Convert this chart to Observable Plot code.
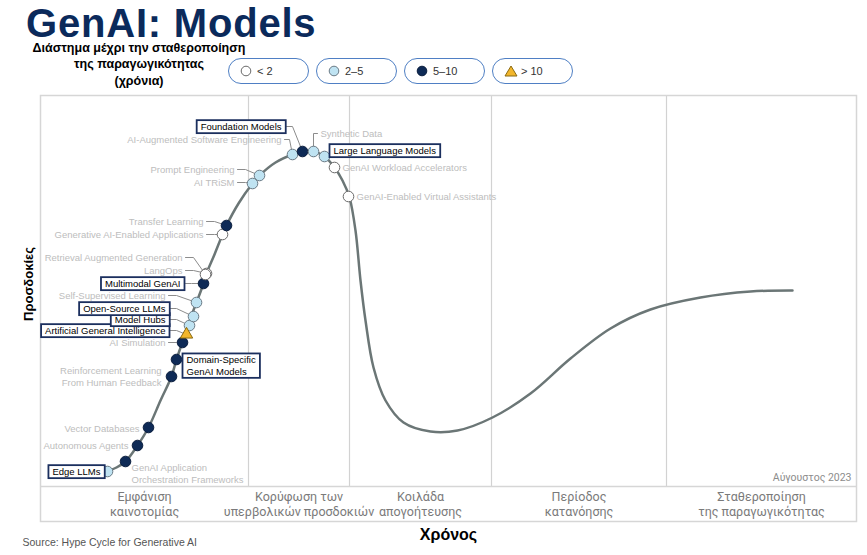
<!DOCTYPE html>
<html><head><meta charset="utf-8">
<script src="https://cdn.jsdelivr.net/npm/d3@7"></script>
<script src="https://cdn.jsdelivr.net/npm/@observablehq/plot@0.6"></script>
<style>
body{margin:0;background:#fff;font-family:"Liberation Sans",Arial,sans-serif;}
#wrap{position:relative;width:867px;height:555px;overflow:hidden}
#head{position:relative;height:88px}
#title{position:absolute;left:26px;top:2.5px;font:bold 40px/40px "Liberation Sans",Arial,sans-serif;letter-spacing:0.8px;color:#0b2a5b;white-space:nowrap}
#ltitle{position:absolute;left:26px;top:39.5px;width:226px;text-align:center;font:bold 12.5px/16.8px "Liberation Sans",Arial,sans-serif;color:#000}
.pill{position:absolute;top:58px;width:79px;height:24px;border:1.5px solid #4f7fc4;border-radius:13px;font:11px/24px "Liberation Sans",Arial,sans-serif;color:#333}
.pill svg{position:absolute;left:11px;top:6px}
.pill span{position:absolute;left:28px;top:0}
</style></head>
<body>
<div id="wrap">
<div id="head">
<div id="title">GenAI: Models</div>
<div id="ltitle">Διάστημα μέχρι την σταθεροποίηση<br>της παραγωγικότητας<br>(χρόνια)</div>
<div id="legend"></div>
</div>
<div id="chart"></div>
</div>
<script>
// ---- data ----
const legendKeys = ["<2", "2-5", "5-10", ">10"];
const legendText = ["< 2", "2–5", "5–10", "> 10"];

const phaseNames = ["Εμφάνιση\nκαινοτομίας", "Κορύφωση των\nυπερβολικών προσδοκιών", "Κοιλάδα\nαπογοήτευσης", "Περίοδος\nκατανόησης", "Σταθεροποίηση\nτης παραγωγικότητας"];
const phaseBounds = [0, 208, 309, 451, 626, 816];

const curveX = [68, 76, 85, 97, 108, 120, 131, 136, 142, 146, 150, 156, 163, 166, 174, 182, 186, 198, 212, 219, 235, 252, 262, 273, 284, 294, 302, 309, 315, 320, 325, 333, 345, 363, 390, 417, 452, 490, 530, 570, 610, 660, 710, 752];
const curveY = [16, 19, 25, 41, 59, 86, 110, 127, 144, 153, 168, 184, 203, 213, 232, 252, 261, 283, 303, 311, 324, 332, 335, 335, 330, 319, 306, 289, 256, 206, 166, 119, 86, 64, 55, 56, 69, 93, 128, 158, 177, 189, 195, 196];

const names = ["Edge LLMs", "GenAI Application\nOrchestration Frameworks", "Autonomous Agents", "Vector Databases", "Reinforcement Learning\nFrom Human Feedback", "Domain-Specific\nGenAI Models", "AI Simulation", "Artificial General Intelligence", "Model Hubs", "Open-Source LLMs", "Self-Supervised Learning", "Multimodal GenAI", "LangOps", "Retrieval Augmented Generation", "Generative AI-Enabled Applications", "Transfer Learning", "AI TRiSM", "Prompt Engineering", "AI-Augmented Software Engineering", "Foundation Models", "Synthetic Data", "Large Language Models", "GenAI Workload Accelerators", "GenAI-Enabled Virtual Assistants"];
const status = ["2-5", "5-10", "5-10", "5-10", "5-10", "5-10", "5-10", ">10", "2-5", "2-5", "2-5", "5-10", "<2", "<2", "<2", "5-10", "2-5", "2-5", "2-5", "5-10", "2-5", "2-5", "<2", "<2"];
const pointX = [67, 85, 97, 108, 131, 136, 142, 146, 149, 153, 156, 163, 166, 165, 182, 186, 212, 219, 252, 262, 273, 284, 294, 308];
const pointY = [15, 25, 41, 59, 110, 127, 144, 152, 161, 170, 184, 203, 213, 212, 252, 261, 303, 311, 332, 335, 335, 330, 319, 290];
const labelX = [60, 91, 88, 99, 121, 146, 125, 125, 125, 125, 125, 140, 142, 142, 163, 163, 194, 194, 241, 241, 280, 293, 302, 316];
const labelY = [15, 13, 41, 58, 110, 121, 144, 156, 167, 178, 191, 203, 216, 229, 252, 265, 304, 317, 347, 360, 353, 336, 319, 290];
const labelSide = ["L", "R", "L", "L", "L", "R", "L", "L", "L", "L", "L", "L", "L", "L", "L", "L", "L", "L", "L", "L", "R", "R", "R", "R"];
const boxed = [1, 0, 0, 0, 0, 1, 0, 1, 1, 1, 0, 1, 0, 0, 0, 0, 0, 0, 0, 1, 0, 1, 0, 0];
const leader = [0, 0, 0, 0, 0, 0, 1, 1, 1, 1, 1, 1, 1, 1, 1, 1, 1, 1, 1, 1, 1, 0, 0, 0];

const dateLabel = ["Αύγουστος 2023"];

// ---- styles ----
const fillOf = {"<2": "#ffffff", "2-5": "#bfe3f2", "5-10": "#0e2a56", ">10": "#f2b62c"};
const strokeOf = {"<2": "#6a6a6a", "2-5": "#6a7a85", "5-10": "#0a1d3d", ">10": "#8a6a12"};

// legend (HTML)
const legend = document.getElementById("legend");
legendKeys.forEach((k, i) => {
  const d = document.createElement("div");
  d.className = "pill";
  d.style.left = (228 + i * 88) + "px";
  const sym = k === ">10"
    ? `<svg width="14" height="12"><path d="M7 1 L13 11 L1 11 Z" fill="${fillOf[k]}" stroke="${strokeOf[k]}" stroke-width="1"/></svg>`
    : `<svg width="12" height="12"><circle cx="6" cy="6" r="4.8" fill="${fillOf[k]}" stroke="${strokeOf[k]}" stroke-width="1"/></svg>`;
  d.innerHTML = sym + `<span>${legendText[i]}</span>`;
  legend.appendChild(d);
});

// tables
const curve = curveX.map((x, i) => ({x, y: curveY[i]}));
const items = names.map((n, i) => ({
  name: n, status: status[i], px: pointX[i], py: pointY[i],
  lx: labelX[i], ly: labelY[i], side: labelSide[i], boxed: boxed[i] === 1, leader: leader[i] === 1
}));
const phases = phaseNames.map((n, i) => ({name: n, x: (phaseBounds[i] + phaseBounds[i + 1]) / 2}));
const yMax = 391, yMin = -35;

const leaderPts = items.filter(d => d.leader).flatMap(d => {
  const dir = d.side === "L" ? 1 : -1;
  const start = d.lx + dir * (d.boxed ? 5 : 3);
  let ex = d.lx + dir * 11;
  if (dir === 1 && ex > d.px - 3) ex = d.px - 3;
  if (dir === -1 && ex < d.px) ex = d.px;
  return [{k: d.name, x: start, y: d.ly}, {k: d.name, x: ex, y: d.ly}, {k: d.name, x: d.px, y: d.py}];
});

const textFont = "Liberation Sans, Arial, sans-serif";
const grayText = "#bdbdbd";

const plot = Plot.plot({
  width: 867, height: 467,
  marginLeft: 40, marginRight: 11, marginTop: 7, marginBottom: 34,
  x: {domain: [0, 816], axis: null},
  y: {domain: [yMin, yMax], axis: null},
  color: {type: "identity"},
  style: {fontFamily: textFont, background: "#fff"},
  marks: [
    Plot.ruleX(phaseBounds.slice(1, -1), {y1: 0, y2: yMax, stroke: "#d2d2d2", strokeWidth: 1.2}),
    Plot.ruleY([0], {stroke: "#d6d6d6", strokeWidth: 1.5}),
    Plot.frame({stroke: "#d6d6d6", strokeWidth: 1.5}),
    Plot.text(phases, {x: "x", y: (yMin) / 2, text: "name", fill: "#7a7a7a", fontSize: 12.5, lineHeight: 1.2, fontFamily: "Roboto, sans-serif"}),
    Plot.text(dateLabel, {x: 816, y: 9, dx: -5, text: d => d, textAnchor: "end", fill: "#8c8c8c", fontSize: 10.5, fontFamily: "Roboto, sans-serif"}),
    Plot.line(curve, {x: "x", y: "y", curve: "catmull-rom", stroke: "#6b7676", strokeWidth: 2.5}),
    Plot.line(leaderPts, {x: "x", y: "y", z: "k", stroke: "#8c8c8c", strokeWidth: 1}),
    Plot.dot(items.filter(d => d.status !== ">10"), {x: "px", y: "py", r: 5.3, fill: d => fillOf[d.status], stroke: d => strokeOf[d.status], strokeWidth: 1}),
    Plot.dot(items.filter(d => d.status === ">10"), {x: "px", y: "py", r: 4.6, symbol: "triangle", fill: d => fillOf[d.status], stroke: d => strokeOf[d.status], strokeWidth: 1}),
    Plot.text(items.filter(d => !d.boxed && d.side === "L"), {x: "lx", y: "ly", text: "name", textAnchor: "end", fill: grayText, fontSize: 9.5, lineHeight: 1.2}),
    Plot.text(items.filter(d => !d.boxed && d.side === "R"), {x: "lx", y: "ly", text: "name", textAnchor: "start", fill: grayText, fontSize: 9.5, lineHeight: 1.2}),
    Plot.text(items.filter(d => d.boxed && d.side === "L"), {x: "lx", y: "ly", text: "name", textAnchor: "end", fill: "#000", fontSize: 9.5, lineHeight: 1.2}),
    Plot.text(items.filter(d => d.boxed && d.side === "R"), {x: "lx", y: "ly", text: "name", textAnchor: "start", fill: "#000", fontSize: 9.5, lineHeight: 1.2}),
    Plot.text(["Προσδοκίες"], {x: 0, y: yMax / 2 + 7, dx: -12, rotate: -90, text: d => d, fontSize: 13, fontWeight: "bold", fill: "#000"}),
    Plot.text(["Χρόνος"], {frameAnchor: "bottom", dy: 18, text: d => d, fontSize: 16, fontWeight: "bold", fill: "#000"}),
    Plot.text(["Source: Hype Cycle for Generative AI"], {frameAnchor: "bottom-left", dx: -18, dy: 24, textAnchor: "start", text: d => d, fontSize: 10.5, fill: "#555"})
  ]
});
document.getElementById("chart").appendChild(plot);

// boxes behind highlighted labels
const boxedSet = new Set(items.filter(d => d.boxed).map(d => d.name.replace(/\n/g, "")));
d3.select(plot).selectAll("text").each(function () {
  if (!boxedSet.has(this.textContent)) return;
  const b = this.getBBox();
  const r = document.createElementNS("http://www.w3.org/2000/svg", "rect");
  r.setAttribute("x", b.x - 4);
  r.setAttribute("y", b.y - 1);
  r.setAttribute("width", b.width + 8);
  r.setAttribute("height", b.height + 2);
  r.setAttribute("fill", "#fff");
  r.setAttribute("stroke", "#1b2f5e");
  r.setAttribute("stroke-width", 1.8);
  const t = this.getAttribute("transform");
  if (t) r.setAttribute("transform", t);
  this.parentNode.insertBefore(r, this);
});
</script>
</body></html>
